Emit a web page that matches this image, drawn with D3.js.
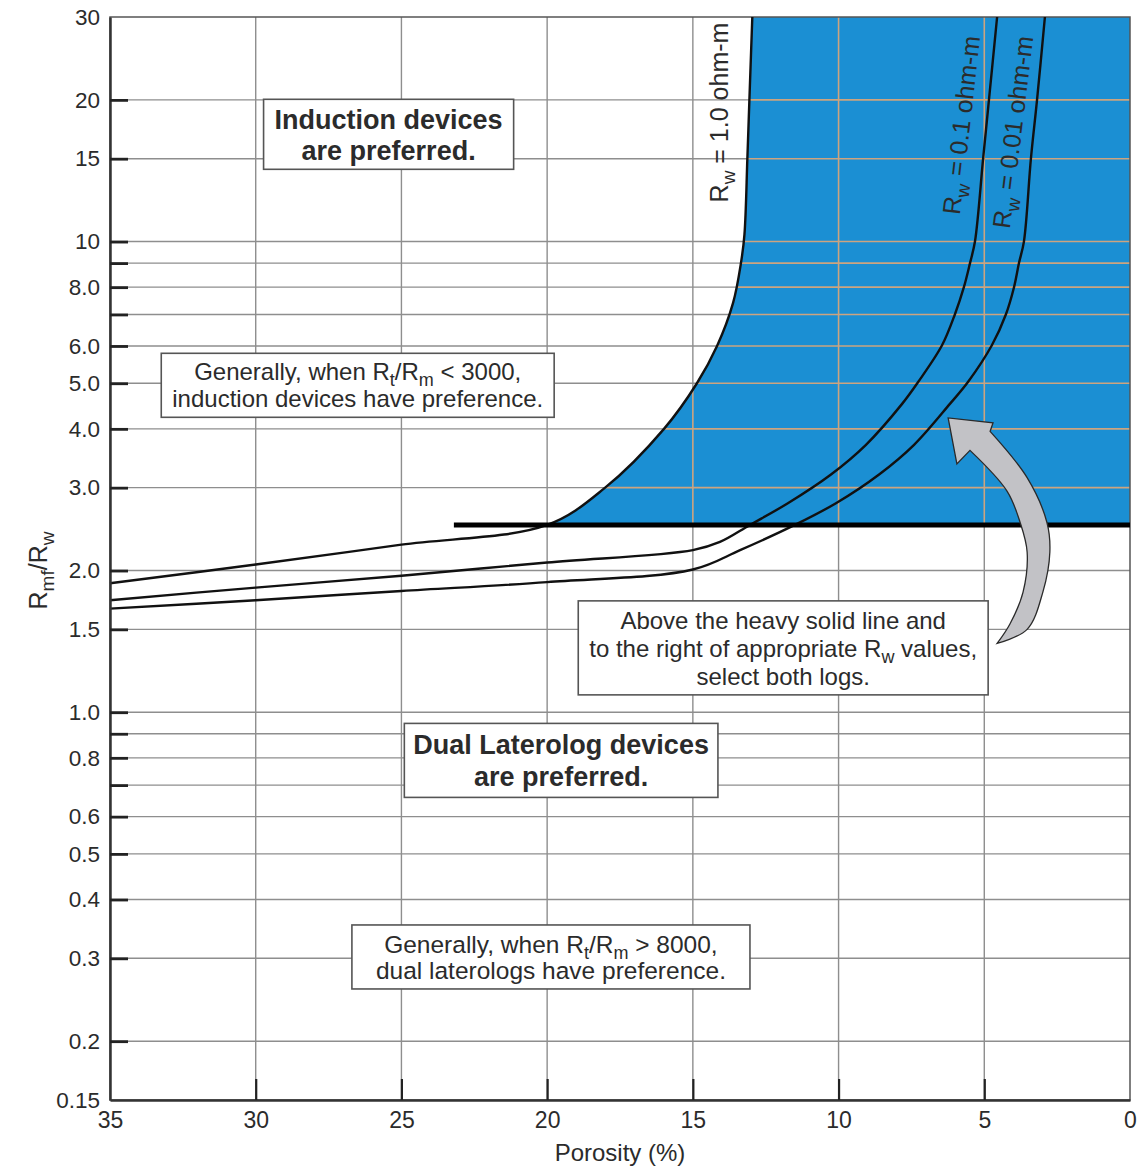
<!DOCTYPE html>
<meta charset="utf-8">
<style>
body{
    margin: 0;
    background: #fff;
}

svg text{
    font-family: "Liberation Sans", Arial, Helvetica, sans-serif;
    fill: #2b2b2b;
}

.grid line{
    stroke: #8e8e8e;
    stroke-width: 1.4;
}

.grid-on-blue line{
    stroke: #cda47f;
    stroke-width: 1.6;
}

.blue{
    fill: #1b8fd3;
}

.rw-curve{
    fill: none;
    stroke: #111;
    stroke-width: 2.4;
}

.heavy-line{
    stroke: #000;
    stroke-width: 5;
}

.frame{
    fill: none;
    stroke: #555;
    stroke-width: 1.5;
}

.axis .domain{
    stroke: #333;
    stroke-width: 2.5;
}

.axis line{
    stroke: #222;
}

.note rect{
    fill: #fff;
    stroke: #555;
    stroke-width: 1.6;
}

.arrow{
    fill: #c2c2c6;
    stroke: #2a2a2a;
    stroke-width: 1.3;
}
</style>
<svg width="1137" height="1169"></svg>
<script src="https://d3js.org/d3.v7.min.js"></script>
<script>

// axis values
var porosityTicks = [35, 30, 25, 20, 15, 10, 5, 0];
var porosityGrid = [30, 25, 20, 15, 10, 5];
var ratioTicks = [30, 20, 15, 10, 8, 6, 5, 4, 3, 2, 1.5, 1, 0.8, 0.6, 0.5, 0.4, 0.3, 0.2, 0.15];
var ratioTickLabels = ['30', '20', '15', '10', '8.0', '6.0', '5.0', '4.0', '3.0', '2.0', '1.5', '1.0', '0.8', '0.6', '0.5', '0.4', '0.3', '0.2', '0.15'];
var ratioGrid = [20, 15, 10, 9, 8, 7, 6, 5, 4, 3, 2, 1.5, 1, 0.9, 0.8, 0.7, 0.6, 0.5, 0.4, 0.3, 0.2];

// Rw curves (porosity %, Rmf/Rw)
var rw1Porosity = [35, 30, 25, 20, 18.01, 15.99, 14.86, 14.17, 13.62, 13.35, 13.23, 13.13, 13.06, 12.96];
var rw1Ratio = [1.88, 2.06, 2.27, 2.5, 3.0, 4.0, 5.0, 6.0, 7.41, 9.0, 10.35, 15, 20, 30];

var rw01Porosity = [35, 30, 25, 20, 15, 14.07, 13.04, 11.74, 10.26, 9.06, 7.82, 7.27, 6.45, 6.01, 5.70, 5.49, 5.32, 5.04, 4.84, 4.56];
var rw01Ratio = [1.73, 1.84, 1.95, 2.08, 2.21, 2.30, 2.5, 2.78, 3.20, 3.70, 4.52, 5.03, 6.02, 7.0, 8.0, 9.0, 10, 15, 20, 30];

var rw001Porosity = [35, 30, 25, 20, 15, 13.38, 11.5, 10.09, 8.61, 7.41, 6.18, 5.56, 4.74, 4.26, 3.98, 3.81, 3.64, 3.40, 3.19, 2.92];
var rw001Ratio = [1.66, 1.73, 1.81, 1.89, 2.01, 2.21, 2.5, 2.78, 3.20, 3.70, 4.52, 5.03, 6.02, 7.0, 8.0, 9.0, 10, 15, 20, 30];

// heavy solid line
var heavyRatio = 2.5;
var heavyFrom = 23.2;

var curveLabels = ['R_{w} = 1.0 ohm-m', 'R_{w} = 0.1 ohm-m', 'R_{w} = 0.01 ohm-m'];

var noteTexts = [
    ['Induction devices', 'are preferred.'],
    ['Generally, when R_{t}/R_{m} < 3000,', 'induction devices have preference.'],
    ['Above the heavy solid line and', 'to the right of appropriate R_{w} values,', 'select both logs.'],
    ['Dual Laterolog devices', 'are preferred.'],
    ['Generally, when R_{t}/R_{m} > 8000,', 'dual laterologs have preference.']
];

// curved pointer, outline in chart units
var arrowOuter = [[4.56, 1.40], [3.53, 1.50], [2.99, 1.80], [2.75, 2.19], [2.85, 2.53], [3.53, 3.15], [4.80, 3.95]];
var arrowHead = [[4.70, 4.12], [6.24, 4.22], [5.94, 3.37]];
var arrowInner = [[5.49, 3.60], [4.22, 2.95], [3.77, 2.53], [3.53, 2.19], [3.67, 1.80], [4.12, 1.54], [4.56, 1.40]];

var svg = d3.select('svg');
var plotLeft = 110, plotRight = 1130, plotTop = 17, plotBottom = 1100;

var x = d3.scaleLinear().domain([35, 0]).range([plotLeft, plotRight]);
var y = d3.scaleLog().domain([0.15, 30]).range([plotBottom, plotTop]);

function zip(a, b){
    return a.map(function(d, i){ return [d, b[i]]; });
}
var rw1 = zip(rw1Porosity, rw1Ratio);
var rw01 = zip(rw01Porosity, rw01Ratio);
var rw001 = zip(rw001Porosity, rw001Ratio);

var line = d3.line()
    .x(function(d){ return x(d[0]); })
    .y(function(d){ return y(d[1]); })
    .curve(d3.curveCatmullRom.alpha(0.5));

// rich text with _{sub} parts
function richText(sel, str, size){
    var parts = str.split(/(_\{[^}]*\})/).filter(function(s){ return s.length; });
    var shift = Math.round(size * 0.26);
    var down = false;
    parts.forEach(function(p){
        var t = sel.append('tspan');
        if (p.indexOf('_{') === 0){
            t.text(p.slice(2, -1)).attr('font-size', Math.round(size * 0.74)).attr('dy', down ? 0 : shift);
            down = true;
        } else {
            t.text(p).attr('dy', down ? -shift : 0);
            down = false;
        }
    });
}

function drawGrid(parent){
    parent.selectAll('line.h')
        .data(ratioGrid)
        .enter().append('line')
        .attr('class', 'h')
        .attr('x1', plotLeft).attr('x2', plotRight)
        .attr('y1', function(d){ return y(d); })
        .attr('y2', function(d){ return y(d); });
    parent.selectAll('line.v')
        .data(porosityGrid)
        .enter().append('line')
        .attr('class', 'v')
        .attr('y1', plotTop).attr('y2', plotBottom)
        .attr('x1', function(d){ return x(d); })
        .attr('x2', function(d){ return x(d); });
}

svg.append('g').attr('class', 'grid').call(drawGrid);

// blue region: right of Rw = 1.0 and above the heavy line
var defs = svg.append('defs');
defs.append('clipPath').attr('id', 'right-of-rw1')
    .append('path')
    .attr('d', line(rw1) + 'L' + x(0) + ',' + y(30) + 'L' + x(0) + ',' + y(0.15) + 'L' + x(35) + ',' + y(0.15) + 'Z');
defs.append('clipPath').attr('id', 'above-heavy')
    .append('rect')
    .attr('x', plotLeft).attr('y', plotTop)
    .attr('width', plotRight - plotLeft)
    .attr('height', y(heavyRatio) - plotTop);

var blueLayer = svg.append('g').attr('clip-path', 'url(#right-of-rw1)')
    .append('g').attr('clip-path', 'url(#above-heavy)');
blueLayer.append('rect')
    .attr('class', 'blue')
    .attr('x', plotLeft).attr('y', plotTop)
    .attr('width', plotRight - plotLeft)
    .attr('height', plotBottom - plotTop);
blueLayer.append('g').attr('class', 'grid-on-blue').call(drawGrid);

// frame
svg.append('rect')
    .attr('class', 'frame')
    .attr('x', plotLeft).attr('y', plotTop)
    .attr('width', plotRight - plotLeft)
    .attr('height', plotBottom - plotTop);

// curves
svg.selectAll('path.rw-curve')
    .data([rw1, rw01, rw001])
    .enter().append('path')
    .attr('class', 'rw-curve')
    .attr('d', line);

svg.append('line')
    .attr('class', 'heavy-line')
    .attr('x1', x(heavyFrom)).attr('x2', x(0))
    .attr('y1', y(heavyRatio)).attr('y2', y(heavyRatio));

// axes
var yAxis = svg.append('g')
    .attr('class', 'axis')
    .attr('transform', 'translate(' + plotLeft + ',0)')
    .call(d3.axisLeft(y)
        .tickValues(ratioTicks)
        .tickFormat(function(d, i){ return ratioTickLabels[i]; })
        .tickSize(0)
        .tickSizeOuter(0)
        .tickPadding(10));
yAxis.selectAll('text').attr('font-size', 22.5).attr('fill', '#333');

svg.append('g')
    .attr('class', 'axis')
    .attr('transform', 'translate(' + plotLeft + ',0)')
    .call(d3.axisRight(y).tickValues(ratioGrid).tickFormat('').tickSize(18).tickSizeOuter(0))
    .call(function(g){
        g.select('.domain').remove();
        g.selectAll('line').attr('stroke-width', 2.8);
    });

var xAxis = svg.append('g')
    .attr('class', 'axis')
    .attr('transform', 'translate(0,' + plotBottom + ')')
    .call(d3.axisBottom(x)
        .tickValues(porosityTicks)
        .tickSize(0)
        .tickSizeOuter(0)
        .tickPadding(12));
xAxis.selectAll('text').attr('font-size', 23).attr('fill', '#333');
xAxis.select('.domain').attr('stroke-width', 3);

svg.append('g')
    .attr('class', 'axis')
    .attr('transform', 'translate(0,' + plotBottom + ')')
    .call(d3.axisTop(x).tickValues(porosityGrid).tickFormat('').tickSize(21).tickSizeOuter(0))
    .call(function(g){
        g.select('.domain').remove();
        g.selectAll('line').attr('stroke-width', 2.2);
    });

// axis titles
svg.append('text')
    .attr('transform', 'translate(' + x(17.5) + ',' + (plotBottom + 61) + ')')
    .attr('text-anchor', 'middle')
    .attr('font-size', 24)
    .text('Porosity (%)');

svg.append('text')
    .attr('transform', 'translate(47,' + y(2.0) + ') rotate(-90)')
    .attr('text-anchor', 'middle')
    .attr('font-size', 25)
    .call(richText, 'R_{mf}/R_{w}', 25);

// curve labels
var curveLabelPos = [[13.78, 18.8, -90], [5.49, 17.6, -83.5], [3.72, 17.0, -83]];
curveLabels.forEach(function(t, i){
    var p = curveLabelPos[i];
    svg.append('text')
        .attr('transform', 'translate(' + x(p[0]) + ',' + y(p[1]) + ') rotate(' + p[2] + ')')
        .attr('text-anchor', 'middle')
        .attr('dy', '0.35em')
        .attr('font-size', 25)
        .call(richText, t, 25);
});

// arrow
var arrowPath = line(arrowOuter)
    + arrowHead.map(function(d){ return 'L' + x(d[0]) + ',' + y(d[1]); }).join('')
    + line(arrowInner).replace(/^M/, 'L') + 'Z';
svg.append('path').attr('class', 'arrow').attr('d', arrowPath);

// notes
var noteLayout = [
    {p: 25.44, v: 16.9, bold: true, size: 27, lh: 31, padX: 11, padY: 8},
    {p: 26.5, v: 4.95, bold: false, size: 24, lh: 27, padX: 11, padY: 10},
    {p: 11.9, v: 1.37, bold: false, size: 24, lh: 28, padX: 11, padY: 10},
    {p: 19.52, v: 0.79, bold: true, size: 27, lh: 32, padX: 9, padY: 10},
    {p: 19.87, v: 0.302, bold: false, size: 24.5, lh: 26, padX: 24, padY: 12}
];

noteTexts.forEach(function(lines, i){
    var o = noteLayout[i];
    var cx = x(o.p), cy = y(o.v);
    var g = svg.append('g').attr('class', 'note');
    var box = g.append('rect');
    var texts = lines.map(function(l, j){
        var t = g.append('text')
            .attr('x', cx)
            .attr('y', cy + (j - (lines.length - 1) / 2) * o.lh + o.size * 0.36)
            .attr('text-anchor', 'middle')
            .attr('font-size', o.size)
            .attr('font-weight', o.bold ? 'bold' : 'normal');
        richText(t, l, o.size);
        return t;
    });
    var w = d3.max(texts, function(t){ return t.node().getComputedTextLength(); });
    var h = lines.length * o.lh + o.padY;
    box.attr('x', cx - w / 2 - o.padX)
        .attr('y', cy - h / 2)
        .attr('width', w + 2 * o.padX)
        .attr('height', h);
});

</script>
